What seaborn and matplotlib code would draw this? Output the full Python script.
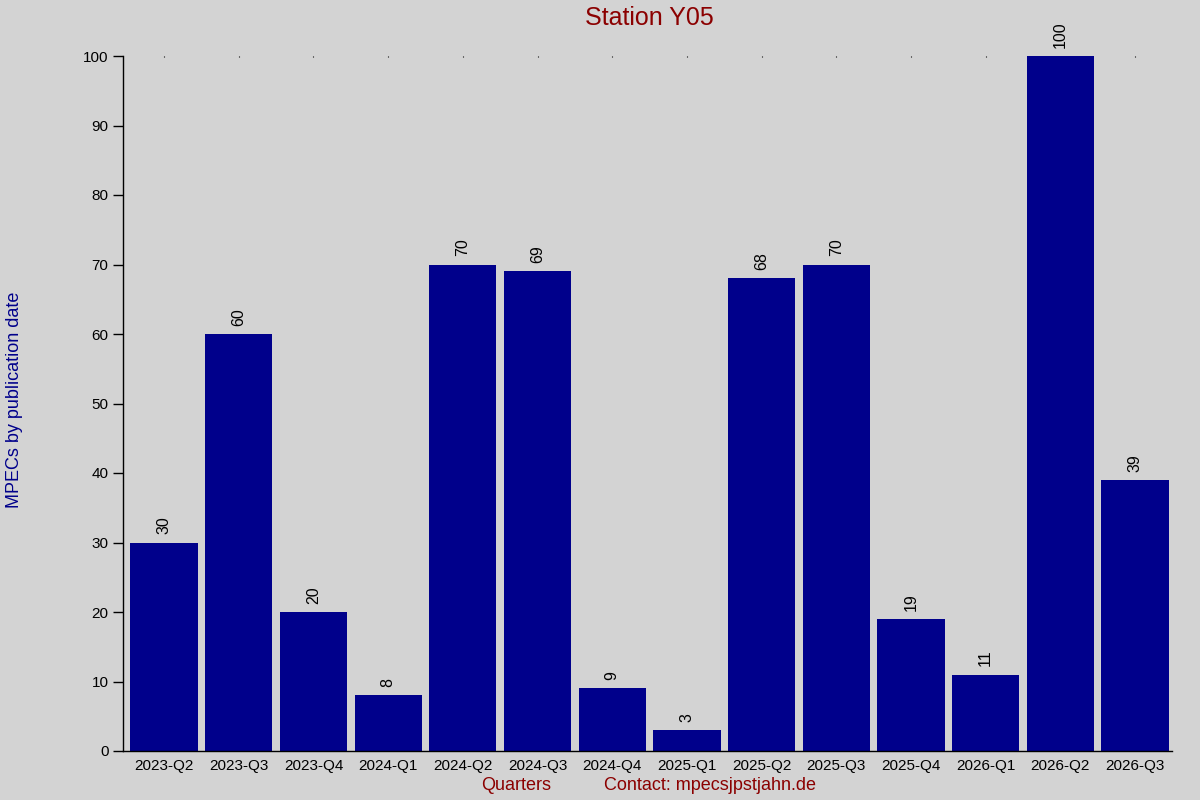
import pandas as pd
import matplotlib
matplotlib.use('Agg')
import matplotlib.pyplot as plt
import seaborn as sns

quarters = ['2023-Q2', '2023-Q3', '2023-Q4', '2024-Q1', '2024-Q2', '2024-Q3', '2024-Q4',
            '2025-Q1', '2025-Q2', '2025-Q3', '2025-Q4', '2026-Q1', '2026-Q2', '2026-Q3']
counts = [30, 60, 20, 8, 70, 69, 9, 3, 68, 70, 19, 11, 100, 39]

df = pd.DataFrame({'quarter': quarters, 'mpecs': counts})

sns.set_style('ticks')
plt.rcParams['font.family'] = ['Liberation Sans', 'DejaVu Sans']
plt.rcParams['text.color'] = 'black'
plt.rcParams['xtick.color'] = 'black'
plt.rcParams['ytick.color'] = 'black'

fig = plt.figure(figsize=(12, 8), dpi=100, facecolor='lightgray')
ax = fig.add_axes([0.1025, 0.06125, 0.8745, 0.86875])
ax.set_facecolor('lightgray')

sns.barplot(x='quarter', y='mpecs', data=df, color='darkblue', saturation=1,
            width=0.9, linewidth=0, edgecolor='none', ax=ax)

# value labels on top of bars
for i, v in enumerate(counts):
    ax.text(i, v + 1.2, str(v), rotation=90, ha='center', va='bottom', fontsize=11.5, color='black')

ax.set_xlim(-0.55, 13.5)
ax.set_ylim(0, 100)
ax.set_yticks(range(0, 101, 10))
ax.set_xlabel('')
ax.set_ylabel('')
ax.tick_params(axis='y', length=7, width=1, labelsize=11, colors='black')
ax.tick_params(axis='x', bottom=False, top=True, direction='in', length=1,
               labelsize=11, pad=6, colors='black')
for s in ['top', 'right']:
    ax.spines[s].set_visible(False)
for s in ['left', 'bottom']:
    ax.spines[s].set_color('black')
    ax.spines[s].set_linewidth(1)

fig.text(0.541, 0.977, 'Station Y05', ha='center', va='center', fontsize=18, color='darkred')
fig.text(0.012, 0.5, 'MPECs by publication date', rotation=90, ha='center', va='center',
         fontsize=13, color='darkblue')
fig.text(0.43, 0.018, 'Quarters', ha='center', va='center', fontsize=13, color='darkred')
fig.text(0.592, 0.018, 'Contact: mpecsjpstjahn.de', ha='center', va='center', fontsize=13,
         color='darkred')

fig.savefig('out.png', dpi=100, facecolor='lightgray')
